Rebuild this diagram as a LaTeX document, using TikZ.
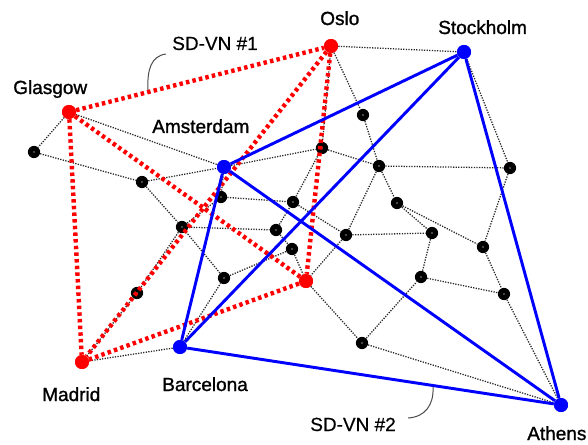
\documentclass[tikz,border=0pt]{standalone}
\usepackage{fontspec}
\setmainfont{Liberation Sans}
\newfontfamily\cityfont{Liberation Sans}[FakeBold=1.2]
\newfontfamily\vnfont{Liberation Sans}[FakeBold=0.4]
\begin{document}
\begin{tikzpicture}[x=0.75pt,y=-0.75pt,
  router/.style={circle,fill=black,inner sep=0pt,minimum size=9.2pt,
    path picture={\fill[black!45] (path picture bounding box.center) circle (0.6pt);}},
  city/.style={circle,inner sep=0pt,minimum size=10.5pt},
  redcity/.style={city,fill=red},
  bluecity/.style={city,fill=blue},
  phys/.style={draw=black!85,line width=0.95pt,dash pattern=on 0.95pt off 1pt},
  vn1/.style={draw=red,line width=3.3pt,dash pattern=on 2.6pt off 2.4pt},
  vn2/.style={draw=blue,line width=2.2pt},
  lbl/.style={anchor=base west,inner sep=0pt,font=\cityfont\fontsize{14.25pt}{16pt}\selectfont},
  vnlbl/.style={anchor=base west,inner sep=0pt,font=\vnfont\fontsize{14.25pt}{16pt}\selectfont},
  callout/.style={draw=black!70,line width=0.75pt}
]
\useasboundingbox (0,0) rectangle (588,445);

% physical routers
\node[router] (n1)  at (34,152)  {};
\node[router] (n2)  at (142,182) {};
\node[router] (n3)  at (182,227) {};
\node[router] (n4)  at (137,293) {};
\node[router] (n5)  at (221,197) {};
\node[router] (n6)  at (224,278) {};
\node[router] (n7)  at (276,230) {};
\node[router] (n8)  at (292,249) {};
\node[router] (n9)  at (293,202) {};
\node[router] (n10) at (346,235) {};
\node[router] (n11) at (322,148) {};
\node[router] (n12) at (363,115) {};
\node[router] (n13) at (379,166) {};
\node[router] (n14) at (397,203) {};
\node[router] (n15) at (432,233) {};
\node[router] (n16) at (483,247) {};
\node[router] (n17) at (510,168) {};
\node[router] (n18) at (421,277) {};
\node[router] (n19) at (504,294) {};
\node[router] (n20) at (362,343) {};

% virtual network endpoints
\node[redcity]  (oslo)  at (331,46)  {};
\node[redcity]  (glas)  at (69,112)  {};
\node[redcity]  (madr)  at (82,362)  {};
\node[redcity]  (vnd)   at (306,281) {};
\node[bluecity] (stock) at (464,52)  {};
\node[bluecity] (amst)  at (224,167) {};
\node[bluecity] (barc)  at (180,347) {};
\node[bluecity] (ath)   at (561,405) {};

% physical links
\foreach \a/\b in {glas/n1, glas/amst, n1/n2, n2/amst, n2/n3, n3/n4, n3/n7, n3/n6,
  n4/madr, madr/barc, barc/n6, n6/n8, n8/vnd, n7/n8, n7/n9, n5/n9, n5/amst, n3/n5,
  n9/n10, n9/n11, amst/n11, oslo/n11, oslo/n12, oslo/stock, n11/n13, n12/n13,
  n13/n17, n13/n10, n13/n14, n14/n15, n14/n16, n10/n15, n10/vnd, stock/n17,
  n17/n16, n15/n18, vnd/n20, n20/n18, n18/n19, n16/n19, n19/ath, n20/ath}
  \draw[phys] (\a) -- (\b);

% SD-VN #1
\foreach \a/\b in {glas/oslo, glas/madr, glas/vnd, oslo/madr, oslo/vnd, madr/vnd}
  \draw[vn1] (\a) -- (\b);

% SD-VN #2
\foreach \a/\b in {stock/amst, stock/barc, stock/ath, amst/barc, amst/ath, barc/ath}
  \draw[vn2] (\a) -- (\b);

% redraw endpoints above the links
\foreach \n in {oslo, glas, madr, vnd} \fill[red] (\n) circle (5.25pt);
\foreach \n in {stock, amst, barc, ath} \fill[blue] (\n) circle (5.25pt);

% labels
\node[lbl] (tOslo)  at (320,25)  {Oslo};
\node[lbl] (tStock) at (438,34)  {Stockholm};
\node[lbl] (tGlas)  at (13,94)   {Glasgow};
\node[lbl] (tAmst)  at (152,133) {Amsterdam};
\node[lbl] (tMadr)  at (42,401)  {Madrid};
\node[lbl] (tBarc)  at (162,391) {Barcelona};
\node[lbl] (tAth)   at (527,440) {Athens};
\node[vnlbl] (tvn1) at (172,50)  {SD-VN \#1};
\node[vnlbl] (tvn2) at (310,431) {SD-VN \#2};

% callouts
\coordinate (c1a) at (148,90);
\coordinate (c1b) at (166,54);
\draw[callout] (c1a) .. controls (147,70) and (151,56) .. (c1b);
\coordinate (c2a) at (433,387);
\coordinate (c2b) at (408,418);
\draw[callout] (c2a) .. controls (434,405) and (425,417) .. (c2b);
\end{tikzpicture}
\end{document}
